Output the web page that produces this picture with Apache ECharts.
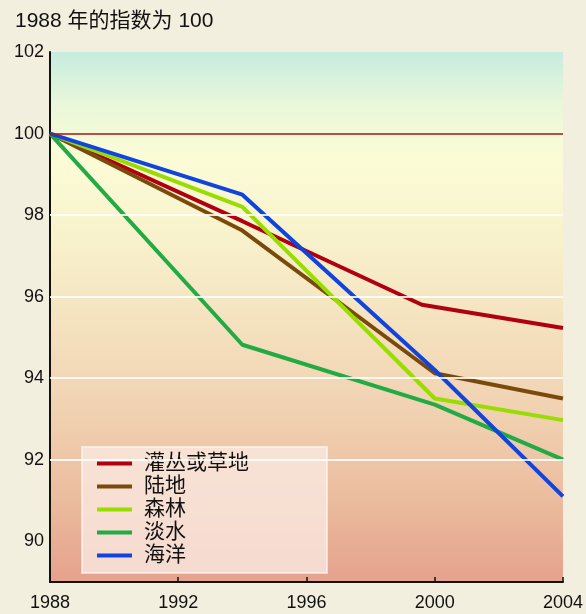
<!DOCTYPE html>
<html>
<head>
<meta charset="utf-8">
<script src="https://cdn.jsdelivr.net/npm/echarts@6/dist/echarts.min.js"></script>
<style>
html,body{margin:0;padding:0;background:#f3efdf;}
#c{width:586px;height:614px;}
</style>
</head>
<body>
<div id="c"></div>
<script>
var title = '1988 年的指数为 100';
var seriesNames = ['灌丛或草地', '陆地', '森林', '淡水', '海洋'];
var yearsShrub = [1988, 1994, 1999.6, 2004];
var yearsOther = [1988, 1994, 2000, 2004];
var shrub = [100, 97.85, 95.8, 95.23];
var land = [100, 97.62, 94.12, 93.5];
var forest = [100, 98.2, 93.5, 92.97];
var freshwater = [100, 94.82, 93.35, 92.0];
var ocean = [100, 98.5, 94.2, 91.1];
var gridValues = [92, 94, 96, 98];
var baseline = 100;
var xTicks = [1988, 1992, 1996, 2000, 2004];

var colors = ['#b0000f', '#7a4a0c', '#99dd00', '#22aa44', '#1144dd'];
var allYears = [yearsShrub, yearsOther, yearsOther, yearsOther, yearsOther];
var allValues = [shrub, land, forest, freshwater, ocean];

function pairs(xs, ys) { return xs.map(function (x, i) { return [x, ys[i]]; }); }

var font = "'Liberation Sans', 'Noto Sans CJK SC', sans-serif";
var series = [{
  type: 'line', name: '_ref', data: [], z: 1, silent: true,
  markLine: {
    silent: true, symbol: 'none', label: {show: false},
    animation: false,
    data: gridValues.map(function (v) {
      return {yAxis: v, lineStyle: {color: 'rgba(255,255,255,0.85)', width: 2, type: 'solid'}};
    }).concat([{yAxis: baseline, lineStyle: {color: '#a01818', width: 1.5, type: 'solid'}}])
  }
}];
seriesNames.forEach(function (n, i) {
  series.push({
    type: 'line', name: n, data: pairs(allYears[i], allValues[i]),
    showSymbol: false, symbol: 'none', z: 3,
    lineStyle: {color: colors[i], width: 4},
    itemStyle: {color: colors[i]},
    animation: false
  });
});

var chart = echarts.init(document.getElementById('c'));
chart.setOption({
  backgroundColor: '#f3efdf',
  animation: false,
  textStyle: {fontFamily: font},
  title: {
    text: title, left: 10, top: 6,
    textStyle: {fontSize: 21, fontWeight: 'normal', color: '#111', fontFamily: font}
  },
  grid: {
    left: 50, right: 22, top: 52, bottom: 32, show: true, borderWidth: 0,
    backgroundColor: {
      type: 'linear', x: 0, y: 0, x2: 0, y2: 1,
      colorStops: [
        {offset: 0, color: '#c6ecdf'},
        {offset: 0.1, color: '#eaf7da'},
        {offset: 0.2, color: '#fbfcd6'},
        {offset: 0.35, color: '#f8f2cc'},
        {offset: 0.5, color: '#f5e3c0'},
        {offset: 0.7, color: '#f0cfaf'},
        {offset: 0.85, color: '#ebbb9d'},
        {offset: 1, color: '#e5a18d'}
      ]
    }
  },
  legend: {
    orient: 'vertical', left: 82, top: 447,
    data: seriesNames,
    icon: 'rect', itemWidth: 35, itemHeight: 4, itemGap: 2,
    padding: [6, 78, 7, 15],
    backgroundColor: 'rgba(250,232,224,0.8)',
    borderColor: 'rgba(255,250,248,0.6)', borderWidth: 2,
    textStyle: {fontSize: 21, lineHeight: 21, color: '#111', padding: [0, 0, 0, 7], fontFamily: font}
  },
  xAxis: {
    type: 'value', min: 1988, max: 2004, interval: 4,
    axisLine: {show: true, lineStyle: {color: '#111', width: 2}},
    axisTick: {show: true, inside: true, length: 5, lineStyle: {color: '#111', width: 1.5}},
    axisLabel: {fontSize: 18, color: '#111', margin: 12, fontFamily: font,
      formatter: function (v) { return xTicks.indexOf(v) >= 0 ? String(v) : ''; },
      showMaxLabel: true},
    splitLine: {show: false}
  },
  yAxis: {
    type: 'value', min: 89, max: 102, interval: 1,
    axisLine: {show: true, lineStyle: {color: '#111', width: 2}},
    axisTick: {show: false},
    axisLabel: {fontSize: 18, color: '#111', margin: 6, fontFamily: font,
      formatter: function (v) { return v % 2 === 0 ? String(v) : ''; }},
    splitLine: {show: false}
  },
  series: series
});
</script>
</body>
</html>
